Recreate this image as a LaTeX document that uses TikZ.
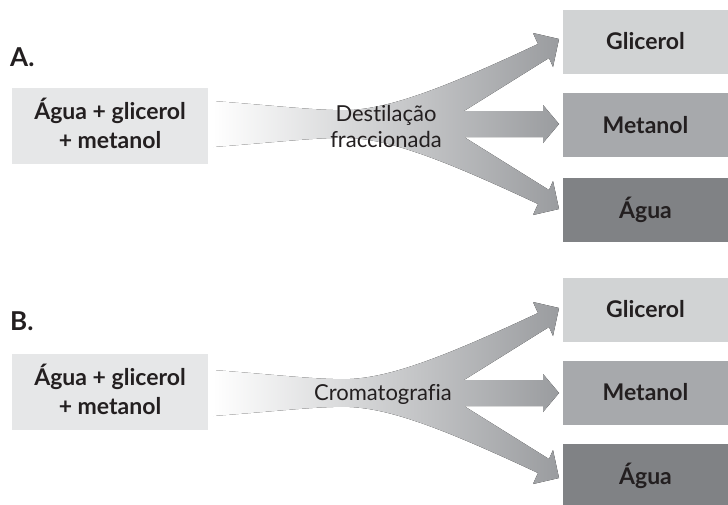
\documentclass[tikz,border=0pt]{standalone}
\usepackage{fontspec}
\setmainfont{Lato}[Ligatures={NoCommon,NoContextual}]
\definecolor{inbox}{HTML}{E6E7E8}
\definecolor{glic}{HTML}{D1D3D4}
\definecolor{meta}{HTML}{A7A9AC}
\definecolor{agua}{HTML}{808285}
\definecolor{ink}{HTML}{231F20}
\definecolor{fanend}{HTML}{9A9C9F}
\tikzset{
  inputbox/.style={fill=inbox, minimum width=196pt, minimum height=76pt, inner sep=0pt},
  boxtext/.style={align=center, font=\fontsize{23}{29}\selectfont\bfseries, text=ink, inner sep=0pt},
  outbox/.style={minimum width=165pt, minimum height=64pt, inner sep=0pt,
    font=\fontsize{23}{28}\selectfont\bfseries, text=ink},
  steplabel/.style={font=\fontsize{22}{26}\selectfont, text=ink, align=center, inner sep=0pt},
  panellabel/.style={font=\fontsize{26}{30}\selectfont\bfseries, text=ink, anchor=base west, inner sep=0pt},
  fan/.style={left color=white, right color=fanend, draw=none},
}
\begin{document}
\begin{tikzpicture}[x=1pt,y=-1pt]
\useasboundingbox (0,0) rectangle (728,504);
% ---------- fans (drawn first, under text) ----------
\foreach \dy/\nm in {0/fanA,269/fanB}{
\begin{scope}[shift={(0,\dy)}]
\fill[fan] (213,101) .. controls (280,106) and (320,111) .. (350,110)
  .. controls (390,108) and (440,90) .. (538,44)
  -- (533,33) -- (559,39) -- (553,67) -- (549,58)
  -- (464,111) -- (543,111) -- (543,105) -- (559,124) -- (543,143) -- (543,137)
  -- (464,137) -- (549,190) -- (553,181) -- (559,209) -- (533,215) -- (538,204)
  .. controls (440,158) and (390,140) .. (350,138)
  .. controls (320,137) and (280,142) .. (213,147) -- cycle;
\end{scope}
}
% ---------- panel A ----------
\node[panellabel] (labA) at (10,66) {A.};
\node[inputbox] (inA) at (110,126) {};
\node[boxtext] (inAt) at (110,123) {Água + glicerol\\+ metanol};
\node[steplabel] (procA) at (386,126) {Destilação\\fraccionada};
\node[outbox, fill=glic] (glA) at (645.5,41.5) {Glicerol};
\node[outbox, fill=meta] (meA) at (645.5,125) {Metanol};
\node[outbox, fill=agua] (agA) at (645.5,209.5) {Água};
% ---------- panel B ----------
\node[panellabel] (labB) at (10,330) {B.};
\node[inputbox] (inB) at (110,392) {};
\node[boxtext] (inBt) at (110,389) {Água + glicerol\\+ metanol};
\node[steplabel] (procB) at (383,394) {Cromatografia};
\node[outbox, fill=glic] (glB) at (645.5,309.5) {Glicerol};
\node[outbox, fill=meta] (meB) at (645.5,392.5) {Metanol};
\node[outbox, fill=agua] (agB) at (645.5,475.5) {Água};
\end{tikzpicture}
\end{document}
